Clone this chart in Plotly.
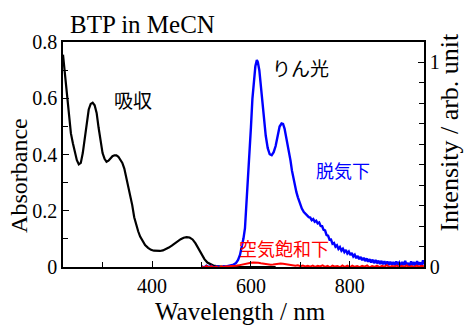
import plotly.graph_objects as go

# ---------------- data ----------------
abs_nm = [220, 224, 228, 232, 236, 240, 244, 248, 252, 256, 260, 264, 268, 272, 276,
          280, 284, 288, 292, 296, 300, 304, 308, 312, 316, 320, 324, 328, 332, 336,
          340, 344, 348, 352, 356, 360, 364, 368, 372, 376, 380, 386, 392, 398, 404,
          410, 416, 422, 428, 434, 440, 446, 452, 458, 464, 470, 476, 482, 488, 494,
          500, 506, 512, 518, 524, 530, 540, 550, 560, 580, 600, 620, 650]
abs_val = [0.755, 0.69, 0.61, 0.55, 0.475, 0.44, 0.405, 0.38, 0.365, 0.37, 0.405, 0.46, 0.512, 0.56, 0.58,
           0.584, 0.575, 0.548, 0.495, 0.44, 0.405, 0.385, 0.374, 0.378, 0.388, 0.394, 0.397, 0.397, 0.392, 0.383,
           0.37, 0.35, 0.32, 0.286, 0.252, 0.22, 0.177, 0.148, 0.127, 0.108, 0.095, 0.078, 0.068, 0.061, 0.058,
           0.057, 0.057, 0.059, 0.063, 0.069, 0.076, 0.084, 0.092, 0.099, 0.104, 0.106, 0.105, 0.098, 0.084, 0.065,
           0.045, 0.028, 0.016, 0.009, 0.005, 0.003, 0.001, 0.0, 0.0, 0.0, 0.0, 0.0, 0.0]

# phosphorescence, degassed (blue)
degas_nm = [500, 505, 510, 515, 520, 525, 530, 535, 540, 545, 550, 555, 560, 565, 570,
            574, 578, 582, 585, 588, 591, 594, 597, 600, 603, 606, 609, 612, 614, 617,
            620, 623, 626, 630, 634, 638, 642, 646, 650, 654, 658, 662, 665, 668, 671,
            674, 677, 680, 683, 686, 689, 692, 695, 699, 703, 707, 711, 715, 717,
            720, 723, 726, 729, 732, 735, 738, 741, 744, 747, 750, 753, 756, 759, 762,
            765, 768, 771, 774, 777, 780, 783, 786, 789, 792, 795, 798, 801, 804, 807,
            810, 813, 816, 819, 822, 825, 828, 831, 834, 837, 840, 843, 846, 849, 852,
            855, 858, 861, 864, 867, 870, 873, 876, 879, 882, 885, 888, 891, 894, 897,
            900, 903, 906, 909, 912, 915, 918, 921, 924, 927, 930, 933, 936, 939, 942,
            945, 948, 950]
degas_val = [0.004, -0.003, 0.006, 0.0, 0.005, -0.004, 0.003, 0.002, -0.003, 0.004, 0.003, 0.006, 0.008, 0.012, 0.02,
             0.035, 0.06, 0.1, 0.14, 0.19, 0.3, 0.43, 0.56, 0.68, 0.82, 0.92, 0.98, 1.01, 1.0, 0.96,
             0.89, 0.81, 0.73, 0.64, 0.58, 0.55, 0.545, 0.56, 0.59, 0.64, 0.685, 0.70, 0.698, 0.675, 0.64,
             0.6, 0.56, 0.52, 0.47, 0.43, 0.40, 0.365, 0.34, 0.31, 0.285, 0.268, 0.256, 0.246, 0.243,
             0.241, 0.228, 0.234, 0.221, 0.226, 0.213, 0.217, 0.2, 0.199, 0.181, 0.178, 0.156, 0.153, 0.133, 0.134,
             0.113, 0.117, 0.099, 0.106, 0.088, 0.097, 0.08, 0.089, 0.073, 0.083, 0.066, 0.075, 0.058, 0.068, 0.051,
             0.06, 0.043, 0.054, 0.038, 0.049, 0.033, 0.045, 0.029, 0.042, 0.026, 0.038, 0.022, 0.036, 0.019, 0.034,
             0.018, 0.031, 0.015, 0.03, 0.013, 0.028, 0.012, 0.027, 0.01, 0.026, 0.011, 0.024, 0.008, 0.027, 0.012,
             0.022, 0.006, 0.025, 0.009, 0.03, 0.007, 0.02, 0.004, 0.027, 0.008, 0.024, 0.005, 0.029, 0.01, 0.022,
             0.006, 0.033, 0.012]

# phosphorescence, air-saturated (red)
air_nm = [500, 505, 510, 515, 520, 525, 530, 535, 540, 545, 550, 555, 560, 565, 570,
          575, 580, 585, 590, 595, 600, 605, 610, 615, 620, 625, 630, 635, 640, 645,
          650, 655, 660, 665, 670, 675, 680, 685, 690, 695, 700, 705, 710, 715, 720,
          725, 730, 735, 740, 745, 750, 755, 760, 765, 770, 775, 780, 785, 790, 795,
          800, 805, 810, 815, 820, 825, 830, 835, 840, 845, 850, 855, 860, 865, 870,
          875, 880, 885, 890, 895, 900, 905, 910, 915, 920, 925, 930, 935, 940, 945, 950]
air_val = [0.003, -0.004, 0.005, -0.002, 0.004, -0.003, 0.002, -0.004, 0.003, 0.0, 0.004, 0.002, 0.005, 0.004, 0.006,
           0.008, 0.011, 0.013, 0.016, 0.019, 0.021, 0.022, 0.022, 0.021, 0.018, 0.016, 0.013, 0.012, 0.011, 0.012,
           0.014, 0.016, 0.017, 0.016, 0.014, 0.011, 0.009, 0.007, 0.006, 0.008, 0.004, 0.007, 0.003, 0.006, 0.002,
           0.007, 0.001, 0.006, 0.003, 0.008, 0.001, 0.006, -0.002, 0.007, 0.002, 0.005, -0.001, 0.008, 0.0, 0.006,
           -0.002, 0.007, 0.001, 0.005, -0.001, 0.006, 0.002, 0.008, -0.002, 0.005, 0.001, 0.007, -0.001, 0.006, 0.002,
           0.009, -0.001, 0.005, 0.002, 0.007, -0.002, 0.006, 0.001, 0.008, 0.0, 0.005, -0.001, 0.007, 0.002, 0.006, 0.004]

x_ticks = [400, 600, 800]
y_ticks = [0, 0.2, 0.4, 0.6, 0.8]
y_ticktext = ["0", "0.2", "0.4", "0.6", "0.8"]
y2_ticks = [0, 1]

# ---------------- figure ----------------
SERIF = "Liberation Serif, Times New Roman, serif"
JP = "Noto Sans CJK JP, sans-serif"

fig = go.Figure()
fig.add_trace(go.Scatter(x=abs_nm, y=abs_val, mode="lines",
                         line=dict(color="black", width=2.2), yaxis="y", showlegend=False))
fig.add_trace(go.Scatter(x=degas_nm, y=degas_val, mode="lines",
                         line=dict(color="#0000ff", width=2.4), yaxis="y2", showlegend=False))
fig.add_trace(go.Scatter(x=air_nm, y=air_val, mode="lines",
                         line=dict(color="#ff0000", width=2), yaxis="y2", showlegend=False))

tick_common = dict(ticks="inside", ticklen=6, tickwidth=1.2, tickcolor="black",
                   showline=True, linecolor="black", linewidth=1.5,
                   showgrid=False, zeroline=False)

fig.update_layout(
    width=466, height=326,
    margin=dict(l=63, r=42, t=42, b=59),
    paper_bgcolor="white", plot_bgcolor="white",
    font=dict(family=SERIF, size=20, color="black"),
    xaxis=dict(range=[220, 950], tickmode="array", tickvals=x_ticks, mirror=True,
               minor=dict(dtick=100, tick0=0, ticks="inside", ticklen=5, tickcolor="black", showgrid=False),
               **tick_common),
    yaxis=dict(range=[0, 0.8], tickmode="array", tickvals=y_ticks, ticktext=y_ticktext,
               minor=dict(dtick=0.1, tick0=0, ticks="inside", ticklen=5, tickcolor="black", showgrid=False),
               **tick_common),
    yaxis2=dict(range=[0, 1.0976], overlaying="y", side="right", tickmode="array", tickvals=y2_ticks,
                minor=dict(dtick=0.1, tick0=0, ticks="inside", ticklen=5, tickcolor="black", showgrid=False),
                **tick_common),
)

# titles
fig.add_annotation(text="BTP in MeCN", xref="paper", yref="paper", x=0.219, y=1.078,
                   xanchor="center", yanchor="middle", showarrow=False,
                   font=dict(family=SERIF, size=25, color="black"))
fig.add_annotation(text="Wavelength / nm", xref="paper", yref="paper", x=0.493, y=-0.198,
                   xanchor="center", yanchor="middle", showarrow=False,
                   font=dict(family=SERIF, size=25, color="black"))
fig.add_annotation(text="Absorbance", xref="paper", yref="paper", x=-0.122, y=0.409,
                   xanchor="center", yanchor="middle", textangle=-90, showarrow=False,
                   font=dict(family=SERIF, size=24, color="black"))
fig.add_annotation(text="Intensity / arb. unit", xref="paper", yref="paper", x=1.072, y=0.602,
                   xanchor="center", yanchor="middle", textangle=-90, showarrow=False,
                   font=dict(family=SERIF, size=26, color="black"))

# in-plot labels
fig.add_annotation(text="吸収", xref="x", yref="y", x=361, y=0.597, showarrow=False,
                   xanchor="center", yanchor="middle", font=dict(family=JP, size=19, color="black"))
fig.add_annotation(text="りん光", xref="x", yref="y", x=701, y=0.709, showarrow=False,
                   xanchor="center", yanchor="middle", font=dict(family=JP, size=19, color="black"))
fig.add_annotation(text="脱気下", xref="x", yref="y", x=786, y=0.345, showarrow=False,
                   xanchor="center", yanchor="middle", font=dict(family=JP, size=18, color="#0000ff"))
fig.add_annotation(text="空気飽和下", xref="x", yref="y", x=666, y=0.069, showarrow=False,
                   xanchor="center", yanchor="middle", font=dict(family=JP, size=18, color="#ff0000"))

fig.write_html("out.html", config={"displayModeBar": False},
               post_script="document.body.style.margin='0';document.body.style.overflow='hidden';")
